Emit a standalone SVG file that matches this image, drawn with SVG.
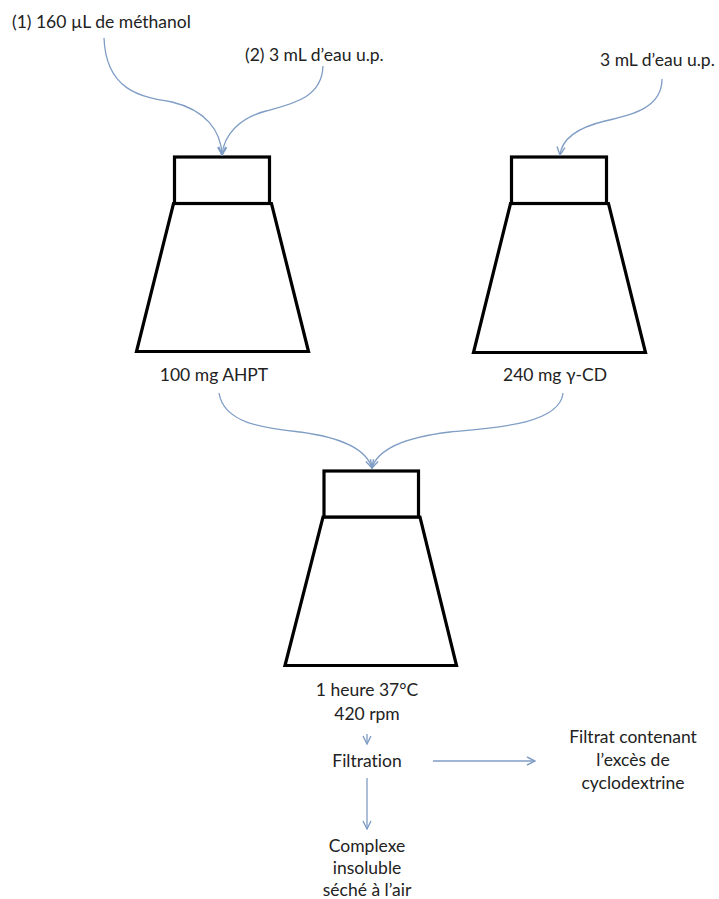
<svg xmlns="http://www.w3.org/2000/svg" width="719" height="899" viewBox="0 0 719 899">
<defs>
<style>
text{font-family:Lato,"Liberation Sans",sans-serif;font-size:17.5px;fill:#222;font-variant-ligatures:none}
.c{text-anchor:middle}
.flask{fill:#fff;stroke:#000;stroke-width:3.2;stroke-linejoin:miter}
.conn{fill:none;stroke:#7f9dc5;stroke-width:1.3}
</style>
<marker id="ah" viewBox="0 0 10 10" refX="9" refY="5" markerWidth="10" markerHeight="10" markerUnits="userSpaceOnUse" orient="auto">
<path d="M1,1 L9,5 L1,9" fill="none" stroke="#7f9dc5" stroke-width="1.4"/>
</marker>
</defs>
<rect width="719" height="899" fill="#fff"/>

<g id="flask-left">
<polygon class="flask" points="173.5,203.5 271.5,203.5 308.5,351.5 136.5,351.5"/>
<rect class="flask" x="174.5" y="157" width="95" height="46.5"/>
</g>
<g id="flask-right">
<polygon class="flask" points="510.5,203.5 608.5,203.5 645.5,352.5 473.5,352.5"/>
<rect class="flask" x="511.5" y="157" width="95" height="46.5"/>
</g>
<g id="flask-center">
<polygon class="flask" points="323,517 420,517 456.5,665.5 285,665.5"/>
<rect class="flask" x="324" y="471" width="94.5" height="46"/>
</g>

<g id="label-methanol"><text x="12" y="28">(1) 160 µL de méthanol</text></g>
<g id="label-eau1"><text x="245" y="61">(2) 3 mL d’eau u.p.</text></g>
<g id="label-eau2"><text x="600" y="66">3 mL d’eau u.p.</text></g>
<g id="label-ahpt"><text class="c" x="214" y="381">100 mg AHPT</text></g>
<g id="label-cd"><text class="c" x="555" y="381">240 mg γ-CD</text></g>
<g id="label-conditions"><text class="c" x="367" y="696">1 heure 37°C</text><text class="c" x="367" y="720">420 rpm</text></g>
<g id="label-filtration"><text class="c" x="367" y="767">Filtration</text></g>
<g id="label-filtrat"><text class="c" x="633" y="743">Filtrat contenant</text><text class="c" x="633" y="766">l’excès de</text><text class="c" x="633" y="789">cyclodextrine</text></g>
<g id="label-complexe"><text class="c" x="367" y="852">Complexe</text><text class="c" x="367" y="874">insoluble</text><text class="c" x="367" y="896">séché à l’air</text></g>

<g id="connectors">
<path class="conn" marker-end="url(#ah)" d="M104,38 C106,90 140,97 172,102 C205,110 221,130 222,155"/>
<path class="conn" marker-end="url(#ah)" d="M323,66 C322,98 292,104 266,111 C240,118 224,134 222,155"/>
<path class="conn" marker-end="url(#ah)" d="M662,79 C662,108 632,115 605,121 C580,127 562,138 560,155"/>
<path class="conn" marker-end="url(#ah)" d="M219,393 C224,424 265,428 300,432 C338,437 366,448 372,468"/>
<path class="conn" marker-end="url(#ah)" d="M563,393 C560,424 495,428 450,432 C408,437 378,448 372,468"/>
<path class="conn" marker-end="url(#ah)" d="M367,734 L367,744"/>
<path class="conn" marker-end="url(#ah)" d="M367,778 L367,829"/>
<path class="conn" marker-end="url(#ah)" d="M433,761 L535,761"/>
</g>
</svg>
